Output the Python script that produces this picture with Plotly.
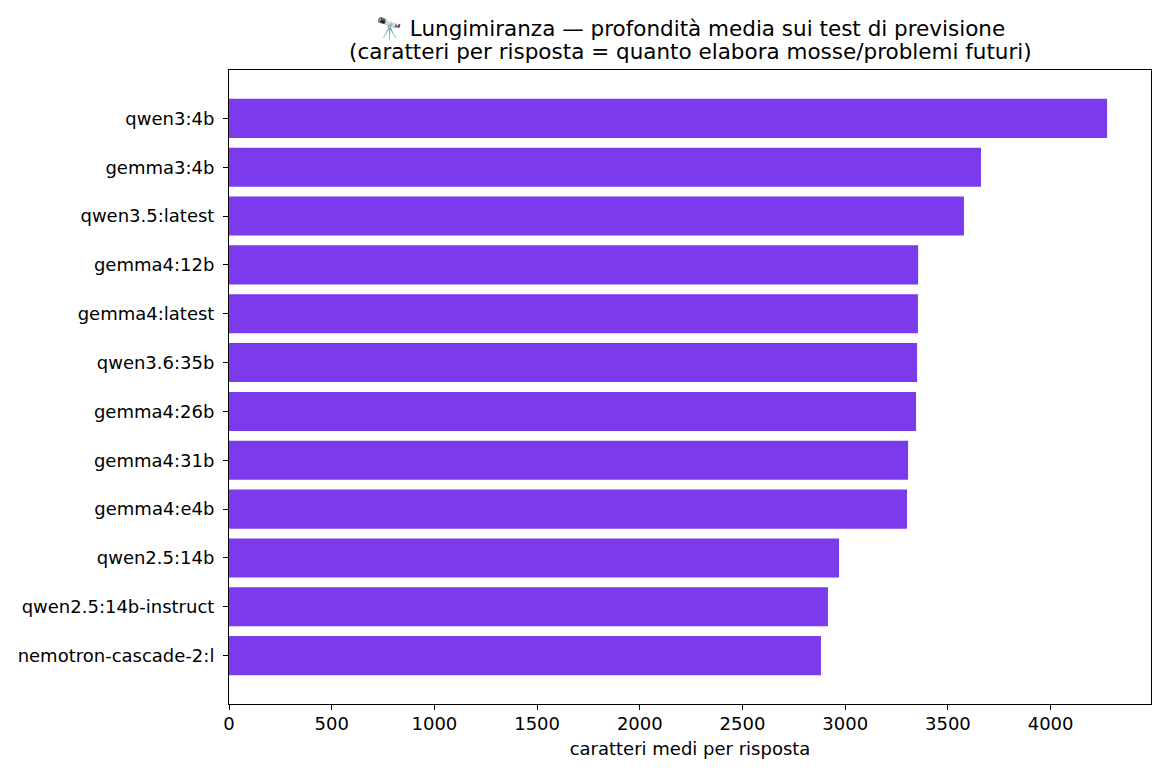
import plotly.graph_objects as go

models = ["qwen3:4b", "gemma3:4b", "qwen3.5:latest", "gemma4:12b", "gemma4:latest",
          "qwen3.6:35b", "gemma4:26b", "gemma4:31b", "gemma4:e4b", "qwen2.5:14b",
          "qwen2.5:14b-instruct", "nemotron-cascade-2:l"]
chars = [4275, 3661, 3578, 3355, 3354, 3350, 3345, 3306, 3301, 2970, 2916, 2882]

title_line1 = "🔭 Lungimiranza — profondità media sui test di previsione"
title_line2 = "(caratteri per risposta = quanto elabora mosse/problemi futuri)"
x_label = "caratteri medi per risposta"

FONT = "DejaVu Sans"
xmax = max(chars) * 1.05
n = len(models)

W, H = 1170, 780
ML, MR, MT, MB = 229, 19, 70, 76
PH = H - MT - MB

fig = go.Figure(go.Bar(
    x=chars, y=models, orientation="h",
    marker=dict(color="#7c3aed", line=dict(width=0)),
    width=0.8,
))


def ypaper(pix):
    return 1 + (MT - pix) / PH


for txt, yc in [(title_line1, 29), (title_line2, 51.5)]:
    fig.add_annotation(text=txt, xref="paper", yref="paper", x=0.5, y=ypaper(yc),
                       xanchor="center", yanchor="middle", showarrow=False,
                       font=dict(family=FONT, size=21.5, color="black"))

fig.update_layout(
    width=W, height=H,
    margin=dict(l=ML, r=MR, t=MT, b=MB),
    plot_bgcolor="white", paper_bgcolor="white",
    font=dict(family=FONT, size=18, color="black"),
    showlegend=False,
    xaxis=dict(range=[0, xmax], tickvals=[0, 500, 1000, 1500, 2000, 2500, 3000, 3500, 4000],
               showgrid=False, zeroline=False, showline=True, linecolor="black", linewidth=1,
               mirror=True, ticks="outside", ticklen=5, tickcolor="black",
               tickfont=dict(family=FONT, size=18), ticklabelstandoff=-2,
               title=dict(text=x_label, font=dict(family=FONT, size=18), standoff=9)),
    yaxis=dict(range=[n - 1 + 0.99, -0.99], type="category",
               showgrid=False, zeroline=False, showline=True, linecolor="black", linewidth=1,
               mirror=True, ticks="outside", ticklen=5, tickcolor="black",
               tickfont=dict(family=FONT, size=18), ticklabelstandoff=5),
    bargap=0.2,
)

fig.write_html("out.html")
